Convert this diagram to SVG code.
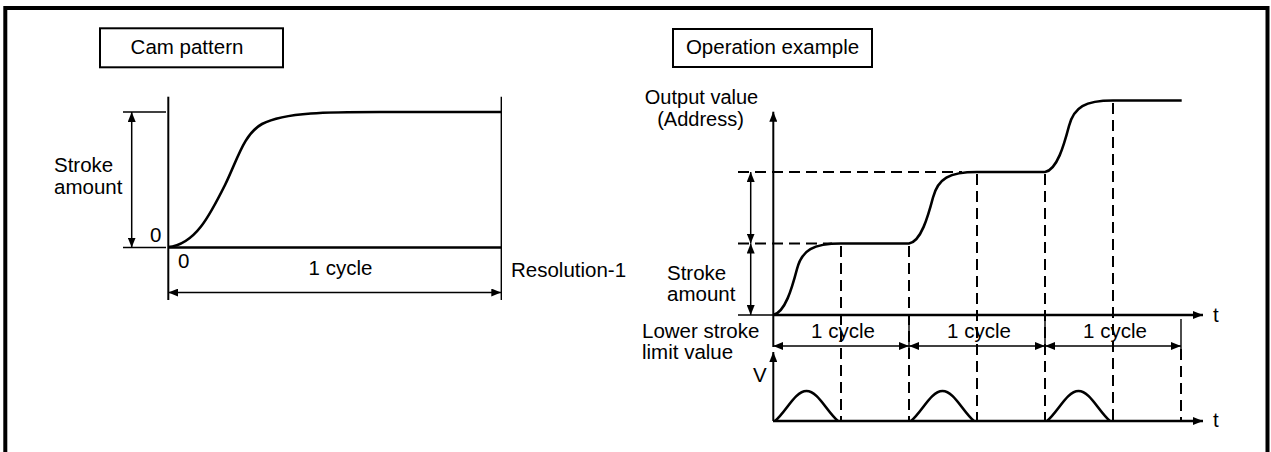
<svg xmlns="http://www.w3.org/2000/svg" width="1271" height="452" viewBox="0 0 1271 452">
<style>
text{font-family:"Liberation Sans",Arial,sans-serif;font-size:20.5px;fill:#000}
.mid{text-anchor:middle}
.sm{font-size:20px}
.frame{fill:none;stroke:#000;stroke-width:4}
.box{fill:#fff;stroke:#000;stroke-width:2}
.thin{stroke:#000;stroke-width:1.4;fill:none}
.ax{stroke:#000;stroke-width:2;fill:none}
.axh{stroke:#000;stroke-width:2.7;fill:none}
.curve{stroke:#000;stroke-width:2.6;fill:none;stroke-linejoin:round}
.dash{stroke:#000;stroke-width:2;stroke-dasharray:11 6;fill:none}
.dim{stroke:#000;stroke-width:1.5;fill:none;marker-start:url(#ah);marker-end:url(#ah)}
.arr{marker-end:url(#ah)}
</style>
<defs>
<marker id="ah" viewBox="0 0 10 8" refX="10" refY="4" markerWidth="10" markerHeight="8" markerUnits="userSpaceOnUse" orient="auto-start-reverse"><path d="M0,0 L10,4 L0,8 z" fill="#000"/></marker>
</defs>
<path class="frame" d="M5.3,452 V8 H1267.5 V452"/>

<g id="cam-title"><rect class="box" x="100" y="28.3" width="183" height="39"/><text class="mid" x="187" y="54">Cam pattern</text></g>
<g id="op-title"><rect class="box" x="673" y="29" width="199" height="38"/><text class="mid" x="772.5" y="53.5">Operation example</text></g>

<g id="cam-chart">
<line class="ax" x1="168.3" y1="96.7" x2="168.3" y2="300"/>
<line class="thin" x1="501.3" y1="96.7" x2="501.3" y2="300"/>
<line class="axh" x1="168" y1="247.5" x2="501.3" y2="247.5"/>
<path class="curve" d="M168,247 C195,245 210,215 225,185 C238,158 244,134 262,124 C285,112 330,112 380,112 L501.3,112"/>
<text x="150" y="241.7">0</text>
<text x="178" y="268">0</text>
<text x="54" y="171.7">Stroke</text>
<text x="54" y="194">amount</text>
<text class="mid" x="340.5" y="275">1 cycle</text>
<text x="511" y="276.5">Resolution-1</text>
</g>

<g id="op-chart">
<line class="ax arr" x1="773.3" y1="347" x2="773.3" y2="111.7"/>
<line class="axh arr" x1="773" y1="315" x2="1203" y2="315"/>
<line class="ax arr" x1="773.3" y1="421" x2="773.3" y2="352"/>
<line class="axh arr" x1="773" y1="421" x2="1203" y2="421"/>
<path class="curve" d="M773,315 C785,313 792,288 797,269 C802,250 813,243.5 841,243.5 H909 C921,241.5 928,216.5 933,197.5 C938,178.5 949,172 977,172 H1045 C1057,170 1064,145 1069,126 C1074,107 1085,100.5 1113,100.5 H1181.7"/>
<path class="curve" d="M775,421 C786,412 795,391 806.5,391 C818,391 827,412 838,421 M911,421 C922,412 931,391 942.5,391 C954,391 963,412 974,421 M1047,421 C1058,412 1067,391 1078.5,391 C1090,391 1099,412 1110,421"/>
<text class="mid sm" x="701.5" y="103.5">Output value</text>
<text class="mid sm" x="700.5" y="126">(Address)</text>
<text x="667" y="279.5">Stroke</text>
<text x="667" y="301">amount</text>
<text x="642" y="337.5">Lower stroke</text>
<text x="642" y="358.5">limit value</text>
<text x="753" y="382">V</text>
<text x="1213" y="322">t</text>
<text x="1213" y="427">t</text>
<text class="mid" x="843" y="338">1 cycle</text>
<text class="mid" x="979" y="338">1 cycle</text>
<text class="mid" x="1115" y="338">1 cycle</text>
</g>

<g id="connectors">
<line class="thin" x1="123" y1="112" x2="166" y2="112"/>
<line class="thin" x1="123" y1="247.5" x2="166" y2="247.5"/>
<line class="dim" x1="131.7" y1="112" x2="131.7" y2="247.5"/>
<line class="dim" x1="168.3" y1="292.5" x2="501.3" y2="292.5"/>
<line class="dash" x1="738" y1="172" x2="962" y2="172"/>
<line class="dash" x1="738" y1="243.5" x2="832" y2="243.5"/>
<line class="thin" x1="738" y1="315" x2="773" y2="315"/>
<line class="dim" x1="750.7" y1="172" x2="750.7" y2="243.5"/>
<line class="dim" x1="750.7" y1="243.5" x2="750.7" y2="315"/>
<line class="dash" x1="841" y1="246" x2="841" y2="421"/>
<line class="dash" x1="909" y1="246" x2="909" y2="421"/>
<line class="dash" x1="977" y1="174" x2="977" y2="421"/>
<line class="dash" x1="1045" y1="174" x2="1045" y2="421"/>
<line class="dash" x1="1113" y1="103" x2="1113" y2="421"/>
<line class="dash" x1="1181" y1="349" x2="1181" y2="421"/>
<line class="thin" x1="909" y1="315" x2="909" y2="349"/>
<line class="thin" x1="1045" y1="315" x2="1045" y2="349"/>
<line class="thin" x1="1181" y1="319" x2="1181" y2="349"/>
<line class="dim" x1="773.3" y1="346" x2="909" y2="346"/>
<line class="dim" x1="909" y1="346" x2="1045" y2="346"/>
<line class="dim" x1="1045" y1="346" x2="1181" y2="346"/>
</g>
</svg>
